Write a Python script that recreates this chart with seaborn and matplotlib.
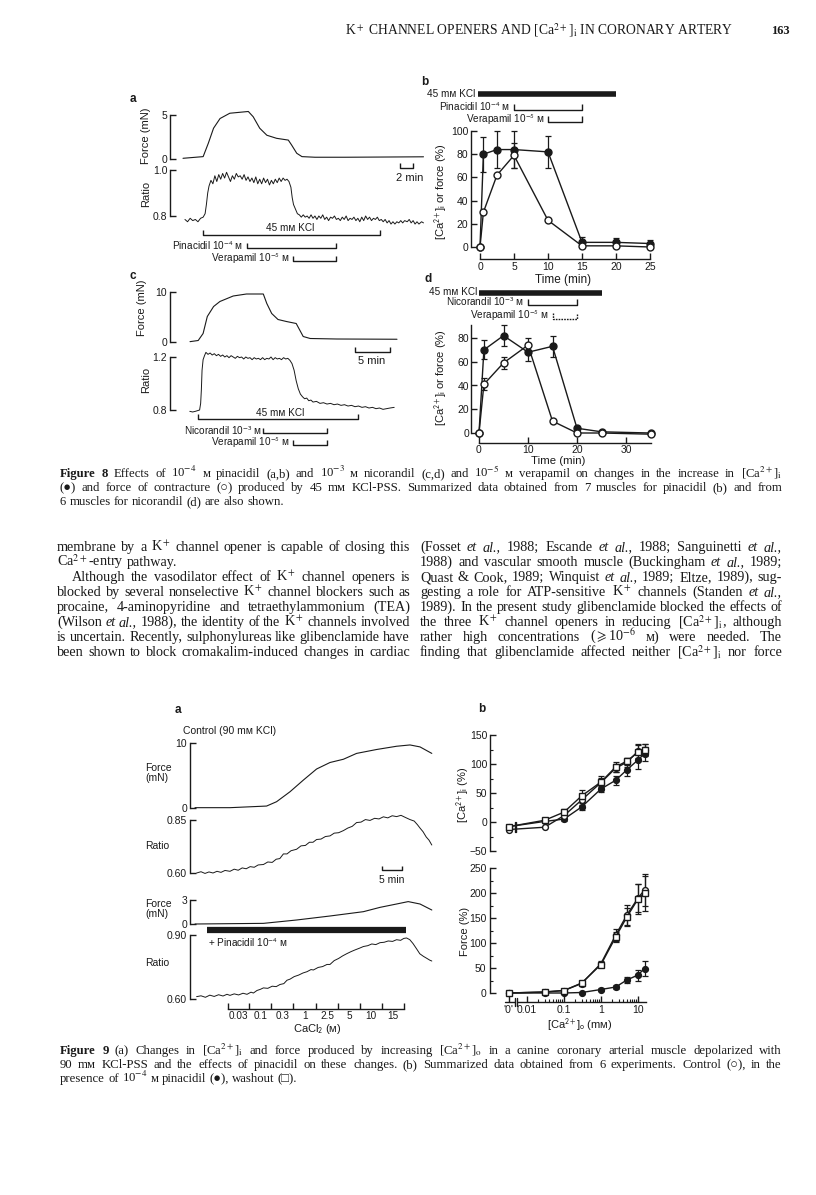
import numpy as np
import matplotlib
matplotlib.use("Agg")
import matplotlib.pyplot as plt
import matplotlib.transforms as mtransforms
import seaborn as sns

# ---------------- data ----------------
# Fig 8a: pinacidil, force (mN) and fura ratio against time (min)
f8a_force_t = [0, 3.1, 3.9, 4.7, 5.7, 7.2, 10.05, 10.8, 11.8, 12.9, 14.4, 16.2, 16.7, 17.5, 18.3, 20.3, 25, 30, 37]
f8a_force = [0.08, 0.27, 1.8, 3.5, 4.6, 5.2, 5.4, 4.8, 3.5, 2.7, 2.35, 2.15, 1.6, 0.65, 0.27, 0.2, 0.2, 0.22, 0.25]
f8a_ratio = [(0.3, 0.785), (0.7, 0.775), (1.1, 0.79), (1.5, 0.78), (1.9, 0.785), (2.3, 0.775), (2.7, 0.79),
             (3.1, 0.795), (3.4, 0.81), (3.6, 0.85), (3.8, 0.90), (4.0, 0.93), (4.3, 0.955), (4.6, 0.94),
             (4.9, 0.975), (5.2, 0.95), (5.5, 0.98), (5.8, 0.96), (6.1, 0.985), (6.4, 0.965), (6.7, 0.99),
             (7.0, 0.97), (7.3, 0.95), (7.6, 0.975), (7.9, 0.96), (8.2, 0.985), (8.5, 0.97), (8.8, 0.975),
             (9.1, 0.96), (9.4, 0.98), (9.7, 0.955), (10.0, 0.97), (10.3, 0.95), (10.6, 0.965), (10.9, 0.945),
             (11.2, 0.97), (11.5, 0.94), (11.8, 0.96), (12.1, 0.94), (12.4, 0.965), (12.7, 0.945), (13.0, 0.96),
             (13.3, 0.935), (13.6, 0.955), (13.9, 0.94), (14.2, 0.96), (14.5, 0.945), (14.8, 0.965), (15.1, 0.95),
             (15.4, 0.965), (15.7, 0.955), (16.0, 0.96), (16.3, 0.95), (16.6, 0.925), (16.8, 0.88), (17.0, 0.85),
             (17.3, 0.83), (17.6, 0.81), (17.9, 0.805), (18.2, 0.795), (18.5, 0.805), (18.8, 0.795), (19.1, 0.80),
             (19.4, 0.79), (19.7, 0.805), (20.0, 0.79), (20.3, 0.80), (20.6, 0.785), (20.9, 0.80), (21.2, 0.79),
             (21.5, 0.805), (21.8, 0.785), (22.1, 0.795), (22.4, 0.78), (22.7, 0.795), (23.0, 0.79), (23.3, 0.80),
             (23.6, 0.785), (23.9, 0.79), (24.2, 0.78), (24.5, 0.795), (24.8, 0.785), (25.1, 0.80), (25.4, 0.78),
             (25.7, 0.79), (26.0, 0.785), (26.3, 0.795), (26.6, 0.78), (26.9, 0.79), (27.2, 0.775), (27.5, 0.795),
             (27.8, 0.78), (28.1, 0.80), (28.4, 0.785), (28.7, 0.795), (29.0, 0.78), (29.3, 0.79), (29.6, 0.785),
             (29.9, 0.795), (30.2, 0.78), (30.5, 0.785), (30.8, 0.775), (31.1, 0.785), (31.4, 0.77), (31.7, 0.78),
             (32.0, 0.765), (32.3, 0.775), (32.6, 0.765), (32.9, 0.775), (33.2, 0.77), (33.5, 0.78), (33.8, 0.77),
             (34.1, 0.78), (34.5, 0.775), (34.8, 0.785), (35.1, 0.77), (35.4, 0.78), (35.7, 0.765), (36.0, 0.775),
             (36.3, 0.765), (36.7, 0.775), (37.0, 0.77)]
f8a_kcl, f8a_pinacidil, f8a_verapamil = (3.1, 30.3), (9.8, 23.5), (16.9, 23.5)

# Fig 8c: nicorandil
f8c_force_t = [0.43, 1.6, 2.3, 2.9, 3.8, 4.7, 6.6, 8.5, 10.9, 11.4, 12.1, 13.0, 14.2, 15.6, 16.1, 16.6, 17.6, 21.4, 30]
f8c_force = [0.07, 0.3, 1.7, 5.1, 7.1, 8.1, 9.2, 9.6, 9.6, 7.7, 5.7, 4.5, 4.1, 3.7, 2.4, 1.1, 0.7, 0.6, 0.55]
f8c_ratio = [(0.4, 0.79), (0.8, 0.785), (1.2, 0.79), (1.5, 0.795), (1.8, 0.80), (1.95, 0.85), (2.05, 0.95),
             (2.15, 1.10), (2.3, 1.18), (2.5, 1.21), (2.7, 1.235), (3.0, 1.22), (3.3, 1.23), (3.6, 1.215),
             (3.9, 1.225), (4.2, 1.21), (4.5, 1.22), (4.8, 1.205), (5.1, 1.215), (5.4, 1.20), (5.7, 1.21),
             (6.0, 1.195), (6.3, 1.21), (6.6, 1.20), (6.9, 1.19), (7.2, 1.205), (7.5, 1.195), (7.8, 1.20),
             (8.1, 1.185), (8.4, 1.20), (8.7, 1.19), (9.0, 1.195), (9.3, 1.18), (9.6, 1.195), (9.9, 1.185),
             (10.2, 1.19), (10.5, 1.18), (10.8, 1.195), (11.1, 1.18), (11.4, 1.19), (11.7, 1.185), (12.0, 1.20),
             (12.3, 1.18), (12.6, 1.195), (12.9, 1.185), (13.2, 1.19), (13.5, 1.18), (13.8, 1.195), (14.1, 1.185),
             (14.4, 1.19), (14.7, 1.175), (15.0, 1.15), (15.3, 1.10), (15.6, 1.02), (15.9, 0.96), (16.2, 0.92),
             (16.5, 0.90), (16.8, 0.885), (17.1, 0.89), (17.4, 0.87), (17.7, 0.875), (18.0, 0.86), (18.5, 0.865),
             (19.0, 0.85), (19.5, 0.855), (20.0, 0.845), (20.5, 0.85), (21.0, 0.84), (21.5, 0.845), (22.0, 0.835),
             (22.5, 0.84), (23.0, 0.83), (23.5, 0.835), (24.0, 0.825), (24.5, 0.83), (25.0, 0.82), (25.5, 0.825),
             (26.0, 0.815), (26.5, 0.82), (27.0, 0.81), (27.5, 0.815), (28.0, 0.805), (28.5, 0.81), (29.0, 0.815),
             (29.6, 0.82)]
f8c_kcl, f8c_nicorandil, f8c_verapamil = (1.57, 24.4), (10.86, 20.0), (15.1, 20.0)

# Fig 8b: summary for pinacidil (%)
f8b_t = [0, 0.5, 2.5, 5, 10, 15, 20, 25]
f8b_ca = [0, 80, 84, 84, 82, 4, 4, 3]
f8b_ca_err = [0, 15, 16, 16, 14, 5, 4, 3]
f8b_force = [0, 30, 62, 79, 23, 1, 1, 0]
f8b_force_err = [0, 0, 0, 11, 0, 0, 0, 0]
f8b_kcl, f8b_pinacidil, f8b_verapamil = (-0.3, 20), (5, 15), (10, 15)

# Fig 8d: summary for nicorandil (%)
f8d_t = [0, 1, 5, 10, 15, 20, 25, 35]
f8d_ca = [0, 70, 82, 68, 73, 4, 1, 0]
f8d_ca_err = [0, 8, 9, 7, 9, 2, 1, 0]
f8d_force = [0, 41, 59, 74, 10, 0, 0, -1]
f8d_force_err = [0, 5, 5, 6, 2, 0, 0, 0]
f8d_kcl, f8d_nicorandil, f8d_verapamil = (0, 25), (10, 20), (15, 20)

# Fig 9a: cumulative CaCl2, time in min
f9a_ctrl_force_t = [0, 8.75, 17.9, 20.4, 23.75, 27.1, 30.4, 33.75, 37.1, 40.4, 45.4, 50.4, 53.75, 56.25, 59.2]
f9a_ctrl_force = [0.05, 0.05, 0.3, 0.97, 2.5, 4.3, 6.0, 7.0, 7.5, 8.4, 9.0, 9.5, 9.7, 9.4, 8.4]
f9a_ctrl_ratio = [(0.4, 0.600), (1.5, 0.606), (2.5, 0.598), (3.5, 0.605), (4.5, 0.600), (5.5, 0.608), (6.5, 0.603),
                  (7.5, 0.612), (8.75, 0.608), (9.8, 0.618), (10.8, 0.613), (11.8, 0.624), (12.8, 0.620),
                  (13.8, 0.630), (14.8, 0.627), (15.8, 0.638), (17.1, 0.640), (18.2, 0.652), (19.3, 0.650),
                  (20.3, 0.665), (21.2, 0.668), (22.1, 0.690), (23.0, 0.690), (24.0, 0.705), (25.4, 0.712),
                  (26.5, 0.728), (27.6, 0.730), (28.6, 0.745), (29.5, 0.745), (30.4, 0.758), (31.5, 0.760),
                  (32.6, 0.772), (33.75, 0.775), (34.8, 0.788), (35.9, 0.790), (37.1, 0.800), (38.2, 0.812),
                  (39.3, 0.820), (40.4, 0.838), (41.5, 0.840), (42.6, 0.852), (43.75, 0.848), (44.9, 0.858),
                  (46.0, 0.855), (47.1, 0.865), (48.2, 0.860), (49.3, 0.870), (50.4, 0.866), (51.5, 0.872),
                  (52.6, 0.862), (53.75, 0.852), (54.8, 0.845), (55.6, 0.828), (56.25, 0.812), (57.0, 0.795),
                  (57.8, 0.770), (58.5, 0.755), (59.2, 0.732)]
f9a_pin_force_t = [0, 17.1, 25.4, 33.75, 42.1, 46.25, 50.4, 53.3, 56.25, 59.2]
f9a_pin_force = [0, 0.08, 0.5, 1.0, 1.54, 2.08, 2.5, 2.8, 2.5, 1.75]
f9a_pin_ratio = [(0.4, 0.611), (1.5, 0.615), (2.6, 0.608), (3.7, 0.618), (4.8, 0.612), (5.9, 0.620), (7.0, 0.614),
                 (8.0, 0.622), (8.75, 0.617), (9.8, 0.624), (10.9, 0.619), (12.0, 0.627), (13.0, 0.622),
                 (14.0, 0.632), (14.6, 0.628), (15.5, 0.640), (16.3, 0.645), (17.1, 0.652), (18.2, 0.650),
                 (19.3, 0.660), (20.3, 0.658), (21.25, 0.668), (22.2, 0.672), (23.0, 0.688), (23.75, 0.693),
                 (24.8, 0.705), (25.9, 0.712), (27.0, 0.722), (28.0, 0.728), (29.0, 0.738), (29.6, 0.736),
                 (30.8, 0.748), (31.9, 0.752), (33.0, 0.762), (33.75, 0.762), (34.8, 0.780), (35.9, 0.790),
                 (36.9, 0.802), (37.9, 0.812), (39.0, 0.822), (40.0, 0.830), (41.1, 0.838), (42.1, 0.846),
                 (43.2, 0.850), (44.2, 0.858), (45.2, 0.855), (46.25, 0.864), (47.3, 0.866), (48.3, 0.872),
                 (49.4, 0.870), (50.4, 0.878), (51.4, 0.875), (52.2, 0.884), (52.9, 0.886), (53.7, 0.878),
                 (54.5, 0.860), (55.4, 0.835), (56.2, 0.812), (57.1, 0.800), (58.0, 0.790), (58.7, 0.782),
                 (59.2, 0.778)]
f9a_pinacidil_bar = (3.0, 52.75)
cacl2_tick_t = [8.2, 13.6, 19.0, 24.6, 30.2, 35.8, 41.2, 46.8, 52.25]
cacl2_labels = ["0.03", "0.1", "0.3", "1", "2.5", "5", "10", "15"]

# Fig 9b: summary against [Ca2+]o (mM); first point is the '0' (Ca-free) step
ZERO_POS = 0.0032
ca_o = [ZERO_POS, 0.03, 0.1, 0.3, 1, 2.5, 5, 10, 15]
ca_control = [-13, -9, 11, 38, 68, 93, 103, 122, 125]
ca_control_err = [0, 0, 3, 8, 8, 7, 8, 12, 10]
ca_pinacidil = [-8, 1, 5, 26, 57, 72, 90, 107, 118]
ca_pinacidil_err = [0, 2, 3, 6, 5, 8, 10, 15, 12]
ca_washout = [-8, 3, 17, 45, 69, 95, 105, 120, 124]
ca_washout_err = [0, 2, 5, 10, 10, 8, 6, 12, 10]
f_control = [0, 2, 5, 19, 59, 116, 156, 190, 206]
f_control_err = [0, 0, 2, 4, 5, 12, 20, 28, 32]
f_pinacidil = [0, 0, 0, 1, 7, 12, 26, 36, 49]
f_pinacidil_err = [0, 0, 0, 1, 3, 4, 6, 11, 15]
f_washout = [0, 2, 5, 20, 57, 112, 152, 188, 200]
f_washout_err = [0, 0, 2, 4, 5, 10, 18, 30, 35]

# page text
header = r"K$^+$ CHANNEL OPENERS AND [Ca$^{2+}$]$_\mathrm{i}$ IN CORONARY ARTERY"
page_no = "163"
cap8 = [r"#Figure #8 Effects of 10$^{-4}$ м pinacidil (a,b) and 10$^{-3}$ м nicorandil (c,d) and 10$^{-5}$ м verapamil on changes in the increase in [Ca$^{2+}$]$_\mathrm{i}$",
        r"(●) and force of contracture (○) produced by 45 mм KCl-PSS. Summarized data obtained from 7 muscles for pinacidil (b) and from",
        r"6 muscles for nicorandil (d) are also shown."]
body_left = [r"membrane by a K$^+$ channel opener is capable of closing this",
             r"Ca$^{2+}$-entry pathway.",
             r"Although the vasodilator effect of K$^+$ channel openers is",
             r"blocked by several nonselective K$^+$ channel blockers such as",
             r"procaine, 4-aminopyridine and tetraethylammonium (TEA)",
             r"(Wilson *et *al., 1988), the identity of the K$^+$ channels involved",
             r"is uncertain. Recently, sulphonylureas like glibenclamide have",
             r"been shown to block cromakalim-induced changes in cardiac"]
body_right = [r"(Fosset *et *al., 1988; Escande *et *al., 1988; Sanguinetti *et *al.,",
              r"1988) and vascular smooth muscle (Buckingham *et *al., 1989;",
              r"Quast & Cook, 1989; Winquist *et *al., 1989; Eltze, 1989), sug-",
              r"gesting a role for ATP-sensitive K$^+$ channels (Standen *et *al.,",
              r"1989). In the present study glibenclamide blocked the effects of",
              r"the three K$^+$ channel openers in reducing [Ca$^{2+}$]$_\mathrm{i}$, although",
              r"rather high concentrations ($\geqslant$10$^{-6}$ м) were needed. The",
              r"finding that glibenclamide affected neither [Ca$^{2+}$]$_\mathrm{i}$ nor force"]
cap9 = [r"#Figure #9 (a) Changes in [Ca$^{2+}$]$_\mathrm{i}$ and force produced by increasing [Ca$^{2+}$]$_\mathrm{o}$ in a canine coronary arterial muscle depolarized with",
        r"90 mм KCl-PSS and the effects of pinacidil on these changes. (b) Summarized data obtained from 6 experiments. Control (○), in the",
        r"presence of 10$^{-4}$ м pinacidil (●), washout (□)."]

# ---------------- set-up ----------------
W, H = 816, 1195
sns.set_theme(style="ticks")
SANS = ["Liberation Sans", "DejaVu Sans"]
SERIF = ["Liberation Serif", "DejaVu Serif", "DejaVu Sans"]
plt.rcParams["font.family"] = SANS
plt.rcParams.update({"axes.edgecolor": "k", "xtick.color": "k", "ytick.color": "k",
                     "text.color": "k", "axes.labelcolor": "k", "axes.linewidth": 1.0})

fig = plt.figure(figsize=(W / 100, H / 100), dpi=100)
fig.patch.set_facecolor("white")
pg = fig.add_axes([0, 0, 1, 1])
pg.set_xlim(0, W)
pg.set_ylim(H, 0)
pg.axis("off")

limits = []


def make_axes(xpix, xval, ypix, yval, xlim, ylim, xlog=False):
    fx = np.log10 if xlog else (lambda v: v)
    sx = (xpix[1] - xpix[0]) / (fx(xval[1]) - fx(xval[0]))
    left = xpix[0] + (fx(xlim[0]) - fx(xval[0])) * sx
    right = xpix[0] + (fx(xlim[1]) - fx(xval[0])) * sx
    sy = (ypix[1] - ypix[0]) / (yval[1] - yval[0])
    bottom = ypix[0] + (ylim[0] - yval[0]) * sy
    top = ypix[0] + (ylim[1] - yval[0]) * sy
    ax = fig.add_axes([left / W, 1 - bottom / H, (right - left) / W, (bottom - top) / H])
    if xlog:
        ax.set_xscale("log")
    ax.set_xlim(xlim)
    ax.set_ylim(ylim)
    ax.patch.set_visible(False)
    limits.append((ax, xlim, ylim))
    return ax


def lab(x, y, s, size=7.5, ha="left", va="center", **kw):
    return pg.text(x, y, s, fontsize=size, ha=ha, va=va, family=SANS, math_fontfamily="stixsans", **kw)


def bracket(ax, span, y, h=5, lw=1.0, ls="-"):
    tr = mtransforms.blended_transform_factory(ax.transData, pg.transData)
    t0, t1 = span
    pg.plot([t0, t0, t1, t1], [y - h, y, y, y - h], transform=tr, color="k", lw=lw, ls=ls,
            clip_on=False, solid_capstyle="butt")


def trace(ax, t, v, lw=0.8):
    sns.lineplot(x=t, y=v, ax=ax, color="k", linewidth=lw, estimator=None, sort=False)


def trace_style(ax, yb, yt, ytl):
    sns.despine(ax=ax, bottom=True)
    ax.spines["left"].set_bounds(*yb)
    ax.set_xticks([])
    ax.set_yticks(yt, ytl)
    ax.tick_params(axis="y", direction="in", length=4, width=1, labelsize=7.5, pad=2)
    ax.set_xlabel("")
    ax.set_ylabel("")


def series(ax, x, y, err, filled, marker="o", ms=5.0):
    x, y, err = np.asarray(x, float), np.asarray(y, float), np.asarray(err, float)
    m = err > 0
    ax.errorbar(x[m], y[m], yerr=err[m], fmt="none", ecolor="k", elinewidth=0.9,
                capsize=2.2, capthick=0.9, zorder=2)
    sns.lineplot(x=x, y=y, ax=ax, color="k", linewidth=1.0, marker=marker, markersize=ms,
                 markerfacecolor="k" if filled else "white", markeredgecolor="k",
                 markeredgewidth=1.0, estimator=None, sort=False, zorder=3)


def text_line(x0, x1, y, line, size, justify=True):
    r = fig.canvas.get_renderer()
    toks = line.split(" ")
    while True:
        objs = []
        for tk in toks:
            style, weight = "normal", "normal"
            if tk.startswith("*"):
                tk, style = tk[1:], "italic"
            if tk.startswith("#"):
                tk, weight = tk[1:], "bold"
            objs.append(pg.text(x0, y, tk, fontsize=size, family=SERIF, style=style, weight=weight,
                                ha="left", va="baseline", math_fontfamily="stix"))
        ws = [o.get_window_extent(r).width for o in objs]
        space = size * 100 / 72 * 0.25
        if sum(ws) + 0.6 * space * (len(ws) - 1) <= (x1 - x0) or size < 6:
            break
        for o in objs:
            o.remove()
        size *= 0.97
    gap = (x1 - x0 - sum(ws)) / (len(ws) - 1) if (justify and len(ws) > 1) else space
    x = x0
    for o, w in zip(objs, ws):
        o.set_x(x)
        x += w + gap


# ---------------- Figure 8a ----------------
ax = make_axes((183, 248), (0, 10), (159, 115), (0, 5), (-2, 38), (-0.3, 5.6))
trace(ax, f8a_force_t, f8a_force)
trace_style(ax, (0, 5), [0, 5], ["0", "5"])
ax = make_axes((183, 248), (0, 10), (216, 170), (0.8, 1.0), (-2, 38), (0.74, 1.02))
trace(ax, [p[0] for p in f8a_ratio], [p[1] for p in f8a_ratio], lw=0.7)
trace_style(ax, (0.8, 1.0), [0.8, 1.0], ["0.8", "1.0"])
bracket(ax, (33.4, 35.4), 168, h=5)
lab(410, 178, "2 min", size=8, ha="center")
bracket(ax, f8a_kcl, 235, h=5)
bracket(ax, f8a_pinacidil, 248, h=5)
bracket(ax, f8a_verapamil, 261, h=5)
lab(290, 228, "45 mм KCl", size=7.2, ha="center")
lab(243, 246, r"Pinacidil 10$^{-4}$ м", size=7.2, ha="right")
lab(290, 259, r"Verapamil 10$^{-5}$ м", size=7.2, ha="right")
lab(146, 136, "Force (mN)", size=8, ha="center", rotation=90)
lab(146, 194, "Ratio", size=8, ha="center", rotation=90)
lab(133, 99, "a", size=8.5, ha="center", weight="bold")

# ---------------- Figure 8c ----------------
ax = make_axes((187, 257), (0, 10), (342, 292), (0, 10), (-2.43, 31), (-0.6, 10.6))
trace(ax, f8c_force_t, f8c_force)
trace_style(ax, (0, 10), [0, 10], ["0", "10"])
ax = make_axes((187, 257), (0, 10), (410, 357), (0.8, 1.2), (-2.43, 31), (0.76, 1.25))
trace(ax, [p[0] for p in f8c_ratio], [p[1] for p in f8c_ratio], lw=0.7)
trace_style(ax, (0.8, 1.2), [0.8, 1.2], ["0.8", "1.2"])
bracket(ax, (24, 29), 352, h=5)
lab(372, 361, "5 min", size=8, ha="center")
bracket(ax, f8c_kcl, 419, h=5)
bracket(ax, f8c_nicorandil, 433, h=5)
bracket(ax, f8c_verapamil, 445, h=5)
lab(280, 413, "45 mм KCl", size=7.2, ha="center")
lab(262, 431, r"Nicorandil 10$^{-3}$ м", size=7.2, ha="right")
lab(290, 443, r"Verapamil 10$^{-5}$ м", size=7.2, ha="right")
lab(142, 308, "Force (mN)", size=8, ha="center", rotation=90)
lab(146, 380, "Ratio", size=8, ha="center", rotation=90)
lab(133, 276, "c", size=8.5, ha="center", weight="bold")

# ---------------- Figure 8b ----------------
axb = make_axes((480, 650), (0, 25), (247, 131), (0, 100), (-1.32, 26.2), (-10.3, 103))
series(axb, f8b_t, f8b_ca, f8b_ca_err, True)
series(axb, f8b_t, f8b_force, f8b_force_err, False)
sns.despine(ax=axb)
axb.spines["left"].set_bounds(0, 100)
axb.spines["bottom"].set_bounds(0, 25)
axb.set_xticks([0, 5, 10, 15, 20, 25])
axb.set_yticks(range(0, 101, 20))
axb.tick_params(direction="in", length=4, width=1, labelsize=7.5, pad=2)
axb.set_xlabel("")
axb.set_ylabel("")
bracket(axb, f8b_kcl, 94, h=0, lw=4)
bracket(axb, f8b_pinacidil, 110, h=6)
bracket(axb, f8b_verapamil, 122, h=6)
lab(475, 94, "45 mм KCl", size=7.2, ha="right")
lab(510, 107, r"Pinacidil 10$^{-4}$ м", size=7.2, ha="right")
lab(545, 120, r"Verapamil 10$^{-5}$ м", size=7.2, ha="right")
lab(441, 192, r"[Ca$^{2+}$]$_\mathrm{i}$ or force (%)", size=8, ha="center", rotation=90)
lab(563, 280, "Time (min)", size=8.5, ha="center")
lab(425, 82, "b", size=8.5, ha="center", weight="bold")

# ---------------- Figure 8d ----------------
axd = make_axes((479, 626), (0, 30), (433, 338), (0, 80), (-1.63, 36.5), (-8.6, 92.5))
series(axd, f8d_t, f8d_ca, f8d_ca_err, True)
series(axd, f8d_t, f8d_force, f8d_force_err, False)
sns.despine(ax=axd)
axd.spines["left"].set_bounds(0, 91)
axd.spines["bottom"].set_bounds(0, 35)
axd.set_xticks([0, 10, 20, 30])
axd.set_yticks(range(0, 81, 20))
axd.tick_params(direction="in", length=4, width=1, labelsize=7.5, pad=1.5)
axd.set_xlabel("")
axd.set_ylabel("")
bracket(axd, f8d_kcl, 293, h=0, lw=4)
bracket(axd, f8d_nicorandil, 305, h=6)
bracket(axd, f8d_verapamil, 319, h=6, ls=(0, (1.2, 0.8)))
lab(477, 292, "45 mм KCl", size=7.2, ha="right")
lab(524, 302, r"Nicorandil 10$^{-3}$ м", size=7.2, ha="right")
lab(549, 316, r"Verapamil 10$^{-5}$ м", size=7.2, ha="right")
lab(441, 378, r"[Ca$^{2+}$]$_\mathrm{i}$ or force (%)", size=8, ha="center", rotation=90)
lab(558, 461, "Time (min)", size=8.2, ha="center")
lab(428, 279, "d", size=8.5, ha="center", weight="bold")

# ---------------- Figure 9a ----------------
xl9 = (-1.25, 60.5)
ax = make_axes((195, 235), (0, 10), (808, 743), (0, 10), xl9, (-0.5, 10.4))
trace(ax, f9a_ctrl_force_t, f9a_ctrl_force)
trace_style(ax, (0, 10), [0, 10], ["0", "10"])
ax = make_axes((195, 235), (0, 10), (873, 820), (0.6, 0.85), xl9, (0.585, 0.88))
trace(ax, [p[0] for p in f9a_ctrl_ratio], [p[1] for p in f9a_ctrl_ratio], lw=0.7)
trace_style(ax, (0.6, 0.85), [0.6, 0.85], ["0.60", "0.85"])
bracket(ax, (46.75, 51.75), 870, h=4)
lab(392, 880, "5 min", size=7.5, ha="center")
ax = make_axes((195, 235), (0, 10), (924, 900), (0, 3), xl9, (-0.2, 3.15))
trace(ax, f9a_pin_force_t, f9a_pin_force)
trace_style(ax, (0, 3), [0, 3], ["0", "3"])
ax = make_axes((195, 235), (0, 10), (999, 935), (0.6, 0.9), xl9, (0.553, 0.92))
trace(ax, [p[0] for p in f9a_pin_ratio], [p[1] for p in f9a_pin_ratio], lw=0.7)
trace_style(ax, (0.6, 0.9), [0.6, 0.9], ["0.60", "0.90"])
ax.spines["bottom"].set_visible(True)
ax.spines["bottom"].set_bounds(cacl2_tick_t[0], cacl2_tick_t[-1])
ax.set_xticks(cacl2_tick_t, [""] * len(cacl2_tick_t))
mids = (np.array(cacl2_tick_t[:-1]) + np.array(cacl2_tick_t[1:])) / 2
ax.set_xticks(mids, cacl2_labels, minor=True)
ax.tick_params(axis="x", which="major", direction="in", length=4, width=1)
ax.tick_params(axis="x", which="minor", length=0, labelsize=7.2, pad=1.5)
lab(317, 1029, "CaCl$_2$ (м)", size=8, ha="center")
bracket(ax, f9a_pinacidil_bar, 930, h=0, lw=4.5)
lab(208, 943, r"+ Pinacidil 10$^{-4}$ м", size=7.2)
lab(183, 731, "Control (90 mм KCl)", size=7.5)
lab(145, 773, "Force\n(mN)", size=7.5, linespacing=1.1)
lab(145, 846, "Ratio", size=7.5)
lab(145, 909, "Force\n(mN)", size=7.5, linespacing=1.1)
lab(145, 963, "Ratio", size=7.5)
lab(178, 710, "a", size=8.5, ha="center", weight="bold")

# ---------------- Figure 9b ----------------
xl = (0.001, 20)
axu = make_axes((601, 638), (1, 10), (822, 793), (0, 50), xl, (-52, 155), xlog=True)
series(axu, ca_o, ca_pinacidil, ca_pinacidil_err, True, ms=4.2)
series(axu, ca_o, ca_control, ca_control_err, False, ms=4.2)
series(axu, ca_o, ca_washout, ca_washout_err, False, marker="s", ms=4.2)
for xb in (0.0046, 0.0052):
    axu.plot([xb, xb], [-18, 0], color="k", lw=1.0)
sns.despine(ax=axu, bottom=True)
axu.spines["left"].set_bounds(-50, 150)
axu.set_xticks([], minor=True)
axu.set_xticks([])
axu.set_yticks(range(-50, 151, 50))
axu.set_yticks(range(-50, 151, 25), minor=True)
axu.tick_params(axis="y", which="major", direction="in", length=4, width=1, labelsize=7.5, pad=2)
axu.tick_params(axis="y", which="minor", direction="in", length=2, width=0.8)
axu.set_xlabel("")
axu.set_ylabel("")

axl = make_axes((601, 638), (1, 10), (993, 968), (0, 50), xl, (-18, 253), xlog=True)
series(axl, ca_o, f_pinacidil, f_pinacidil_err, True, ms=4.2)
series(axl, ca_o, f_control, f_control_err, False, ms=4.2)
series(axl, ca_o, f_washout, f_washout_err, False, marker="s", ms=4.2)
sns.despine(ax=axl)
axl.spines["left"].set_bounds(0, 250)
axl.spines["bottom"].set_bounds(0.0058, 16)
axl.set_yticks(range(0, 251, 50))
axl.set_yticks(range(0, 251, 25), minor=True)
axl.set_xticks([ZERO_POS, 0.01, 0.1, 1, 10], ["'0'", "0.01", "0.1", "1", "10"])
axl.set_xticks([k * 10.0 ** e for e in (-2, -1, 0) for k in range(2, 10)], minor=True)
axl.xaxis.set_minor_formatter(matplotlib.ticker.NullFormatter())
axl.tick_params(which="major", direction="in", length=4, width=1, labelsize=7.5, pad=2.5)
axl.tick_params(which="minor", direction="in", length=2, width=0.8)
axl.set_xlabel("")
axl.set_ylabel("")
trz = mtransforms.blended_transform_factory(axl.transData, pg.transData)
pg.plot([0.0026, 0.0046], [1002, 1002], transform=trz, color="k", lw=1.0, clip_on=False)
for xb in (0.0046, 0.0053):
    pg.plot([xb, xb], [998, 1006], transform=trz, color="k", lw=1.0, clip_on=False)
lab(463, 795, r"[Ca$^{2+}$]$_\mathrm{i}$ (%)", size=8, ha="center", rotation=90)
lab(465, 931, "Force (%)", size=8, ha="center", rotation=90)
lab(580, 1025, r"[Ca$^{2+}$]$_\mathrm{o}$ (mм)", size=8, ha="center")
lab(482, 709, "b", size=8.5, ha="center", weight="bold")

for a, xlim_, ylim_ in limits:
    a.set_xlim(xlim_)
    a.set_ylim(ylim_)

# ---------------- page text ----------------
pg.text(345, 34, header, fontsize=9.8, family=SERIF, math_fontfamily="stix", va="baseline")
pg.text(790, 34, page_no, fontsize=9, family=SERIF, weight="bold", va="baseline", ha="right")

for i, line in enumerate(cap8):
    text_line(60, 782, 477 + 14 * i, line, 9.2, justify=(i < len(cap8) - 1))

for i, line in enumerate(body_left):
    x0 = 72 if i == 2 else 57
    text_line(x0, 410, 551 + 15 * i, line, 10.2, justify=(i != 1))
for i, line in enumerate(body_right):
    text_line(420, 782, 551 + 15 * i, line, 10.2, justify=True)

for i, line in enumerate(cap9):
    text_line(60, 782, 1054 + 14 * i, line, 9.2, justify=(i < len(cap9) - 1))

fig.savefig("out.png", dpi=100, facecolor="white")
